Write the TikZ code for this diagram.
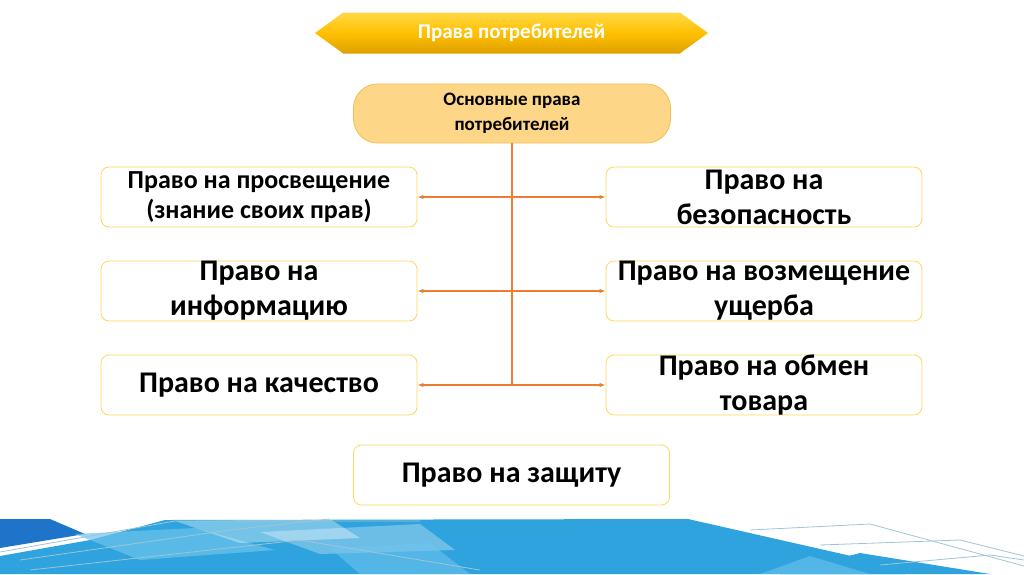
\documentclass[tikz,border=0pt]{standalone}
\usepackage{fontspec}
\setmainfont{Carlito}
\usepackage{tikz}
\usetikzlibrary{arrows.meta,positioning,calc,shapes.symbols}
\definecolor{bannertop}{RGB}{255,216,70}
\definecolor{bannermid}{RGB}{255,192,0}
\definecolor{bannerbot}{RGB}{222,160,0}
\definecolor{mainfill}{RGB}{254,214,136}
\definecolor{maindraw}{RGB}{244,190,80}
\definecolor{boxdraw}{RGB}{255,214,90}
\definecolor{linkcol}{RGB}{237,125,49}
\definecolor{decodark}{RGB}{30,116,200}
\definecolor{decoblue}{RGB}{46,163,221}
\definecolor{decolight}{RGB}{110,196,236}
\definecolor{decolinecol}{RGB}{160,196,214}
\tikzset{
  banner/.style={shape=signal, signal to=west and east, signal pointer angle=72,
                 minimum width=393pt, minimum height=41pt, inner sep=0pt,
                 top color=bannertop, bottom color=bannerbot, middle color=bannermid,
                 draw=none, text=white, font=\fontsize{21}{24}\selectfont\bfseries},
  mainbox/.style={draw=maindraw, fill=mainfill, rounded corners=24pt,
                  minimum width=317pt, minimum height=59pt, line width=0.8pt,
                  inner ysep=0pt,
                  align=center, font=\fontsize{19}{25}\selectfont\bfseries},
  % the two-line labels are a little taller than the box, as in the original
  rightbox/.style={draw=boxdraw, fill=white, rounded corners=8pt,
                   minimum width=316pt, minimum height=60pt, line width=0.8pt,
                   inner ysep=-4pt,
                   align=center, font=\fontsize{30}{35}\selectfont\bfseries},
  smallright/.style={rightbox, font=\fontsize{26}{30}\selectfont\bfseries},
  link/.style={-{Latex[length=6pt, width=4.5pt]}, draw=linkcol, line width=1.3pt},
  trunk/.style={draw=linkcol, line width=1.5pt},
  decoline/.style={draw=decolinecol, line width=0.8pt},
}
\begin{document}
\begin{tikzpicture}[x=1pt, y=-1pt]
\useasboundingbox (0,0) rectangle (1024,574);

% ---------------- title and main node ----------------
\node[banner] (title) at (511.5,33) {Права потребителей};
\node[mainbox] (main) at (512,113.5) {Основные права\\потребителей};

% ---------------- rights ----------------
\foreach \i/\y/\lab in {1/197/{Право на просвещение\\(знание своих прав)},
                        2/291/{Право на\\информацию},
                        3/385/{Право на качество}} {
  \ifnum\i=1
    \node[smallright] (L\i) at (259,\y) {\lab};
  \else
    \node[rightbox] (L\i) at (259,\y) {\lab};
  \fi
}
\foreach \i/\y/\lab in {1/197/{Право на\\безопасность},
                        2/291/{Право на возмещение\\ущерба},
                        3/385/{Право на обмен\\товара}} {
  \node[rightbox] (R\i) at (764,\y) {\lab};
}
\node[rightbox] (prot) at (511.5,475) {Право на защиту};

% ---------------- connectors ----------------
\foreach \i/\y in {1/197, 2/291, 3/385} {
  \coordinate (j\i) at (main.south |- 0,\y);
}
\draw[trunk] (main.south) -- (j3);
\foreach \i in {1,2,3} {
  \draw[link] (j\i) -- (L\i.east);
  \draw[link] (j\i) -- (R\i.west);
}

% ---------------- bottom decoration ----------------
\fill[decoblue] (165,520) -- (688,519) -- (860,558) -- (905,574) -- (0,574)
  -- (0,556) -- (90,540) -- cycle;
\fill[decodark] (0,519) -- (50,519) -- (85,534) -- (0,548) -- cycle;
\fill[decolight, opacity=0.7] (75,534) -- (195,528) -- (275,550) -- (140,560) -- cycle;
\fill[white, opacity=0.35] (175,521) -- (330,519) -- (360,538) -- (240,543) -- cycle;
\fill[white, opacity=0.3] (260,532) -- (420,524) -- (455,550) -- (320,554) -- cycle;
\fill[decolight, opacity=0.6] (330,548) -- (430,543) -- (470,574) -- (360,574) -- cycle;
\fill[decoblue] (780,574) -- (860,553) -- (990,574) -- cycle;
\fill[decolight, opacity=0.6] (760,574) -- (810,556) -- (870,574) -- cycle;
\draw[decoline] (0,552) -- (175,521) -- (420,521);
\draw[decoline] (20,560) -- (230,530) -- (330,519);
\draw[decoline] (30,570) -- (300,540) -- (480,570);
\draw[decoline] (750,530) -- (870,524) -- (1024,566);
\draw[decoline] (820,545) -- (960,540) -- (1024,556);
\draw[decoline] (880,565) -- (990,555) -- (1024,560);
\end{tikzpicture}
\end{document}
